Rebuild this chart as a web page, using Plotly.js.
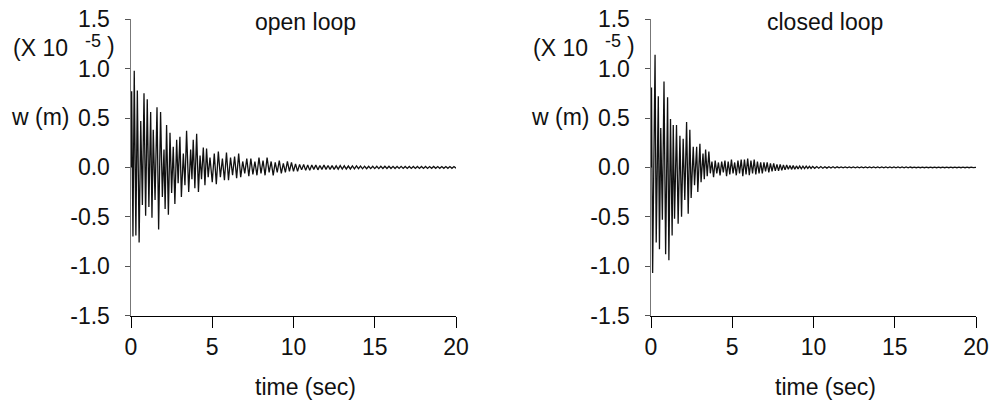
<!DOCTYPE html>
<html>
<head>
<meta charset="utf-8">
<script src="https://cdn.plot.ly/plotly-3.0.1.min.js"></script>
<style>html,body{margin:0;padding:0;background:#fff;}#chart{width:993px;height:401px;}</style>
</head>
<body>
<div id="chart"></div>
<script>
// ---- data (w in units of 1e-5 m, time in sec) ----
const panelTitles = ["open loop", "closed loop"];
const xTickVals = [0, 5, 10, 15, 20];
const xTickLabels = ["0", "5", "10", "15", "20"];
const yTickVals = [-1.5, -1.0, -0.5, 0.0, 0.5, 1.0, 1.5];
const yTickLabels = ["-1.5", "-1.0", "-0.5", "0.0", "0.5", "1.0", "1.5"];

const tOpen = [0,0.04,0.12,0.20,0.30,0.39,0.50,0.60,0.70,0.80,0.90,1.00,1.10,1.21,1.29,1.37,1.48,1.60,1.70,1.82,1.93,2.03,2.10,2.19,2.30,2.40,2.50,2.60,2.70,2.81,2.90,3.01,3.10,3.22,3.32,3.42,3.55,3.67,3.75,3.83,3.93,4.04,4.15,4.25,4.34,4.45,4.55,4.65,4.75,4.86,
5.000,5.125,5.250,5.375,5.500,5.625,5.750,5.875,6.000,6.125,6.250,6.375,6.500,6.625,6.750,6.875,7.000,7.125,7.250,7.375,7.500,7.625,7.750,7.875,8.000,8.125,8.250,8.375,8.500,8.625,8.750,8.875,9.000,9.125,9.250,9.375,9.500,9.625,9.750,9.875,10.000,10.125,10.250,10.375,10.500,10.625,10.750,10.875,11.000,11.125,11.250,11.375,11.500,11.625,11.750,11.875,12.000,12.125,12.250,12.375,12.500,12.625,12.750,12.875,13.000,13.125,13.250,13.375,13.500,13.625,13.750,13.875,14.000,14.125,14.250,14.375,14.500,14.625,14.750,14.875,15.000,15.125,15.250,15.375,15.500,15.625,15.750,15.875,16.000,16.125,16.250,16.375,16.500,16.625,16.750,16.875,17.000,17.125,17.250,17.375,17.500,17.625,17.750,17.875,18.000,18.125,18.250,18.375,18.500,18.625,18.750,18.875,19.000,19.125,19.250,19.375,19.500,19.625,19.750,19.875,20.000];
const wOpen = [0,0.77,-0.70,0.98,-0.69,0.78,-0.76,0.47,-0.38,0.75,-0.49,0.69,-0.40,0.56,-0.51,0.38,-0.33,0.61,-0.63,0.56,-0.30,0.18,-0.42,0.43,-0.48,0.35,-0.26,0.21,-0.37,0.28,-0.16,0.31,-0.30,0.14,-0.18,0.37,-0.25,0.18,-0.12,0.28,-0.21,0.34,-0.25,0.12,-0.12,0.20,-0.18,0.19,-0.10,0.10,
-0.15,0.14,-0.17,0.16,-0.10,0.09,-0.13,0.15,-0.13,0.10,-0.08,0.11,-0.11,0.14,-0.10,0.06,-0.06,0.09,-0.09,0.09,-0.07,0.06,-0.08,0.10,-0.06,0.07,-0.08,0.10,-0.05,0.06,-0.08,0.05,-0.05,0.07,-0.06,0.04,-0.05,0.06,-0.04,0.05,-0.04,0.035,-0.04,0.03,-0.025,0.03,-0.03,0.025,-0.03,0.025,-0.02,0.025,-0.025,0.02,-0.02,0.025,-0.02,0.02,-0.02,0.018,-0.02,0.016,-0.018,0.018,-0.016,0.016,-0.016,0.014,-0.016,0.015,-0.014,0.015,-0.013,0.013,-0.014,0.012,-0.013,0.012,-0.012,0.012,-0.012,0.011,-0.012,0.011,-0.011,0.012,-0.011,0.011,-0.011,0.01,-0.011,0.01,-0.01,0.011,-0.01,0.01,-0.01,0.01,-0.01,0.01,-0.01,0.01,-0.01,0.01,-0.01,0.009,-0.01,0.009,-0.009,0.01,-0.009,0.009,-0.009,0.009,-0.009,0.009,-0.009,0.009,-0.009,0.009,-0.008];

const tClosed = [0,0.03,0.10,0.17,0.25,0.32,0.40,0.45,0.52,0.60,0.70,0.80,0.90,1.02,1.10,1.20,1.30,1.37,1.45,1.57,1.67,1.78,1.88,1.98,2.08,2.19,2.29,2.39,2.47,2.60,2.68,2.81,2.88,3.01,3.08,3.20,3.28,3.36,3.46,3.56,3.65,3.75,
3.85,3.95,4.05,4.15,4.25,4.35,4.45,4.55,4.65,4.75,4.85,4.95,5.05,5.15,5.25,5.35,5.45,5.55,5.65,5.75,5.85,5.95,6.05,6.15,6.25,6.35,6.45,6.55,6.65,6.75,6.85,6.95,7.05,7.15,7.25,7.35,7.45,7.55,7.65,7.75,7.85,7.95,8.05,8.15,8.25,8.35,8.45,8.55,8.65,8.75,8.85,8.95,9.05,9.15,9.25,9.35,9.45,9.55,9.65,9.75,9.85,9.95,
10.075,10.2,10.325,10.45,10.575,10.7,10.825,10.95,11.075,11.2,11.325,11.45,11.575,11.7,11.825,11.95,12.075,12.2,12.325,12.45,12.575,12.7,12.825,12.95,13.075,13.2,13.325,13.45,13.575,13.7,13.825,13.95,14.075,14.2,14.325,14.45,14.575,14.7,14.825,14.95,15.075,15.2,15.325,15.45,15.575,15.7,15.825,15.95,16.075,16.2,16.325,16.45,16.575,16.7,16.825,16.95,17.075,17.2,17.325,17.45,17.575,17.7,17.825,17.95,18.075,18.2,18.325,18.45,18.575,18.7,18.825,18.95,19.075,19.2,19.325,19.45,19.575,19.7,19.825,19.95,20.0];
const wClosed = [0,0.81,-1.07,0.33,1.14,-0.76,0.28,0.72,-0.83,0.40,-0.53,0.87,-0.88,0.71,-0.94,0.49,-0.69,0.43,-0.52,0.43,-0.57,0.32,-0.50,0.29,-0.33,0.46,-0.47,0.38,-0.31,0.21,-0.18,0.21,-0.25,0.24,-0.15,0.14,-0.12,0.18,-0.09,0.16,-0.06,0.06,
-0.10,0.07,-0.06,0.05,-0.08,0.06,-0.05,0.07,-0.09,0.06,-0.07,0.08,-0.06,0.05,-0.08,0.07,-0.06,0.08,-0.09,0.08,-0.07,0.09,-0.08,0.07,-0.06,0.08,-0.07,0.06,-0.06,0.05,-0.06,0.05,-0.04,0.05,-0.05,0.04,-0.04,0.04,-0.035,0.03,-0.035,0.03,-0.03,0.025,-0.025,0.025,-0.02,0.02,-0.02,0.018,-0.018,0.015,-0.015,0.014,-0.014,0.013,-0.012,0.012,-0.011,0.011,-0.01,0.01,
-0.009,0.009,-0.008,0.008,-0.008,0.007,-0.007,0.007,-0.006,0.006,-0.006,0.006,-0.005,0.005,-0.005,0.005,-0.005,0.005,-0.005,0.004,-0.004,0.004,-0.004,0.004,-0.004,0.004,-0.004,0.004,-0.004,0.004,-0.004,0.004,-0.004,0.004,-0.004,0.004,-0.004,0.004,-0.004,0.004,-0.004,0.004,-0.004,0.004,-0.004,0.004,-0.004,0.004,-0.003,0.003,-0.003,0.003,-0.003,0.003,-0.003,0.003,-0.003,0.003,-0.003,0.003,-0.003,0.003,-0.003,0.003,-0.003,0.003,-0.003,0.003,-0.003,0.003,-0.003,0.003,-0.003,0.003,-0.003,0.003,-0.003,0.003,-0.003,0.003,0.0];

// ---- layout helpers ----
const W = 993, H = 401;
const px = v => v / W;
const py = v => 1 - v / H;
const FONT = "Liberation Sans, Arial, Helvetica, sans-serif";
const FS = 23;

const traces = [
  {x: tOpen, y: wOpen, xaxis: "x", yaxis: "y", type: "scatter", mode: "lines",
   line: {color: "#111", width: 1.3}, hoverinfo: "skip"},
  {x: tClosed, y: wClosed, xaxis: "x2", yaxis: "y2", type: "scatter", mode: "lines",
   line: {color: "#111", width: 1.3}, hoverinfo: "skip"}
];

function xAxis(dom, anchor) {
  return {domain: dom, anchor: anchor, range: [0, 20], tickmode: "array",
    tickvals: xTickVals, ticktext: xTickLabels, showgrid: false, zeroline: false,
    showline: true, linecolor: "#000", linewidth: 1, ticks: "outside", ticklen: 11,
    tickcolor: "#000", tickwidth: 1, ticklabelstandoff: 0,
    tickfont: {family: FONT, size: FS, color: "#111"}, fixedrange: true};
}
function yAxis(anchor) {
  return {domain: [1 - 315.5 / H, 1 - 19.3 / H], anchor: anchor, range: [-1.5, 1.5],
    tickmode: "array", tickvals: yTickVals, ticktext: yTickLabels, showgrid: false,
    zeroline: false, showline: true, linecolor: "#777", linewidth: 1.5,
    ticks: "outside", ticklen: 5, tickcolor: "#555", tickwidth: 1, ticklabelstandoff: 10,
    tickfont: {family: FONT, size: FS, color: "#111"}, fixedrange: true};
}

const ann = [];
function addText(text, x, y, size) {
  ann.push({text: text, x: px(x), y: py(y), xref: "paper", yref: "paper",
    xanchor: "center", yanchor: "middle", showarrow: false, borderpad: 0,
    font: {family: FONT, size: size, color: "#111"}});
}
const offsets = [0, 520];
offsets.forEach((o, i) => {
  addText(panelTitles[i], 305 + o, 22, FS);
  addText("w (m)", 40 + o, 117, FS);
  addText("(X 10", 40 + o, 48, FS);
  addText("-5", 93 + o, 41, 18);
  addText(")", 111 + o, 46, FS);
  addText("time (sec)", 305 + o, 387, FS);
});

const layout = {
  width: W, height: H, margin: {l: 0, r: 0, t: 0, b: 0},
  paper_bgcolor: "#fff", plot_bgcolor: "#fff", showlegend: false,
  xaxis: xAxis([131 / W, 456 / W], "y"),
  yaxis: yAxis("x"),
  xaxis2: xAxis([651 / W, 976 / W], "y2"),
  yaxis2: yAxis("x2"),
  annotations: ann
};

Plotly.newPlot("chart", traces, layout, {staticPlot: true, displayModeBar: false});
</script>
</body>
</html>
